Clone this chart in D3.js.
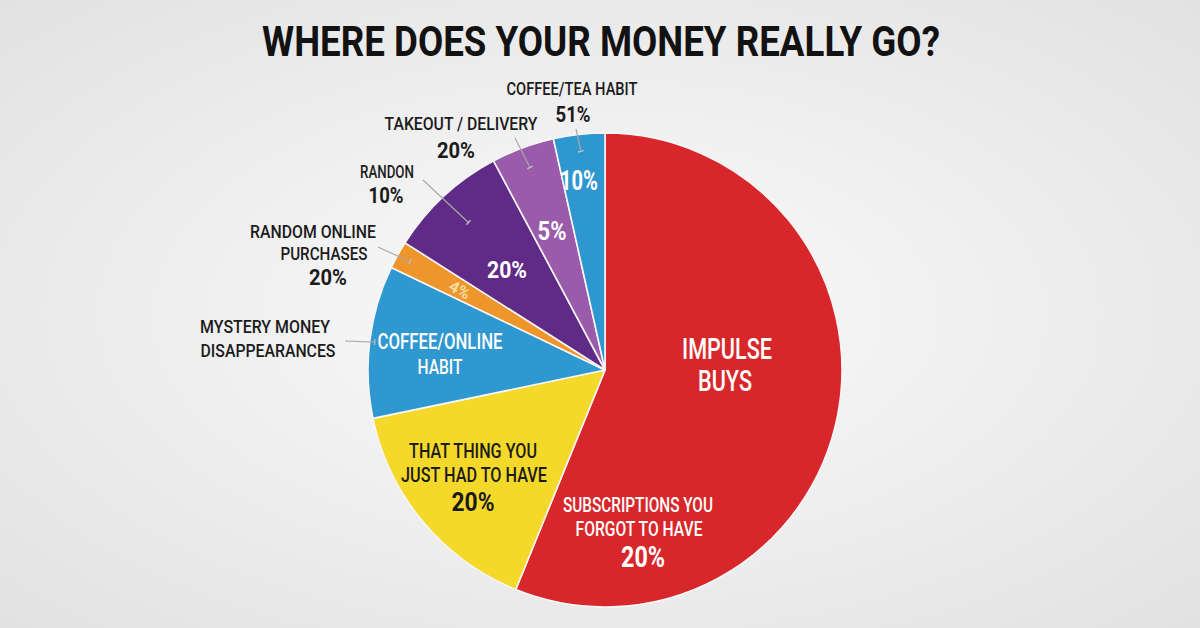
<!DOCTYPE html>
<html>
<head>
<meta charset="utf-8">
<script src="https://cdn.jsdelivr.net/npm/d3@7"></script>
<style>
  html, body { margin: 0; padding: 0; }
  body { width: 1200px; height: 628px; overflow: hidden; }
  text { font-family: Roboto, "Open Sans", sans-serif; }
</style>
</head>
<body>
<div class="importPie"></div>
<script>
// slice data, clockwise from 12 o'clock
var categories = ["Impulse buys", "That thing you just had to have", "Coffee/online habit",
    "Random online purchases", "Randon", "Takeout / delivery", "Coffee/tea habit"];
var shares = [56.2, 15.6, 10.4, 1.9, 8.2, 4.3, 3.5];
var sliceColors = ["#d8272b", "#f5d92a", "#2f98d0", "#ee952b", "#5f2b86", "#9b5bab", "#2f97cf"];

// printed labels (as in the picture)
var insideLabels = [
    ["IMPULSE", "BUYS"],
    ["THAT THING YOU", "JUST HAD TO HAVE", "20%"],
    ["COFFEE/ONLINE", "HABIT"],
    ["4%"],
    ["20%"],
    ["5%"],
    ["10%"]
];
var extraLabel = ["SUBSCRIPTIONS YOU", "FORGOT TO HAVE", "20%"];
var outsideLabels = [
    null,
    null,
    ["MYSTERY MONEY", "DISAPPEARANCES"],
    ["RANDOM ONLINE", "PURCHASES", "20%"],
    ["RANDON", "10%"],
    ["TAKEOUT / DELIVERY", "20%"],
    ["COFFEE/TEA HABIT", "51%"]
];
var title = "WHERE DOES YOUR MONEY REALLY GO?";

var width = 1200,
    height = 628,
    cx = 605,
    cy = 370,
    radius = 237;

var svg = d3.select(".importPie")
    .append("svg")
    .attr("width", width)
    .attr("height", height);

// background
var defs = svg.append("defs");
var bg = defs.append("radialGradient")
    .attr("id", "bg")
    .attr("cx", "50%").attr("cy", "50%").attr("r", "70%");
bg.append("stop").attr("offset", "0%").attr("stop-color", "#fbfbfb");
bg.append("stop").attr("offset", "100%").attr("stop-color", "#e2e2e2");
svg.append("rect")
    .attr("width", width)
    .attr("height", height)
    .attr("fill", "url(#bg)");

// pie generator
var pie = d3.pie()
    .sort(null)
    .value(function (d) {
        return d;
    });

var arc = d3.arc()
    .outerRadius(radius)
    .innerRadius(0);

var arcs = pie(shares);

var g = svg.append("g")
    .attr("transform", "translate(" + cx + "," + cy + ")");

g.selectAll(".arc")
    .data(arcs)
    .enter().append("path")
    .attr("class", "arc")
    .attr("d", arc)
    .style("fill", function (d, i) {
        return sliceColors[i];
    })
    .style("stroke", "#f6f6f6")
    .style("stroke-width", 1.6)
    .style("stroke-linejoin", "round");

// one line of text, squeezed horizontally to look like the condensed face
function line(parent, str, p, fill) {
    var t = parent.append("text")
        .attr("text-anchor", "middle")
        .style("font-size", p[2] + "px")
        .style("font-weight", p[4])
        .style("fill", fill)
        .text(str);
    var len = t.node().getComputedTextLength();
    t.attr("transform", "translate(" + p[0] + "," + p[1] + ") scale(" + (p[3] / len) + ",1)");
    return t;
}

function block(parent, lines, lay, fill) {
    lines.forEach(function (s, j) {
        line(parent, s, lay[j], fill);
    });
}

// title
line(svg, title, [601, 56, 43, 678, 700], "#121212");

// layout of label blocks: [x, baseline, size, width, weight] for each line
var insideLayout = [
    [[727, 359, 29, 90, 500], [725, 391, 30, 54, 500]],
    [[473, 458, 21, 128, 500], [474, 482, 21, 146, 500], [473, 511, 26, 43, 700]],
    [[440, 349, 22, 125, 500], [440, 374, 21, 45, 500]],
    [[0, 6, 16, 22, 700]],
    [[507, 278, 23, 40, 700]],
    [[552, 240, 25, 29, 700]],
    [[579, 190, 27, 38, 700]]
];
var insideFill = ["#ffffff", "#1b1b1b", "#ffffff", "#f7e6b2", "#ffffff", "#ffffff", "#ffffff"];
var extraLayout = [[638, 512, 21, 150, 500], [639, 536, 21, 127, 500], [643, 567, 29, 44, 700]];

var outsideLayout = [
    null,
    null,
    [[265, 333, 19, 130, 500], [268, 357, 19, 135, 500]],
    [[313, 238, 19, 126, 500], [324, 260, 19, 87, 500], [328, 285, 22, 38, 700]],
    [[387, 178, 19, 54, 500], [386, 203, 22, 35, 700]],
    [[461, 130, 19, 153, 500], [456, 158, 22, 38, 700]],
    [[572, 95, 19, 131, 500], [573, 122, 22, 35, 700]]
];
// leader start points and the radius where they stop inside the slice
var leaderStart = [null, null, [345, 341], [378, 247], [423, 180], [515, 138], [576, 129]];
var leaderDepth = [0, 0, 232, 223, 201, 216, 220];

var labels = svg.append("g");

arcs.forEach(function (d, i) {
    var lay = insideLayout[i];
    if (i === 3) {
        // small rotated label on the thin orange slice
        var mid = (d.startAngle + d.endAngle) / 2;
        var r = radius * 0.7;
        var px = cx + Math.sin(mid) * r,
            py = cy - Math.cos(mid) * r;
        var rg = labels.append("g")
            .attr("transform", "translate(" + px + "," + py + ") rotate(" +
                (mid * 180 / Math.PI - 270) + ")")
            .style("opacity", 0.9);
        block(rg, insideLabels[i], lay, insideFill[i]);
    } else {
        block(labels, insideLabels[i], lay, insideFill[i]);
    }

    if (outsideLabels[i]) {
        block(labels, outsideLabels[i], outsideLayout[i], "#1b1b1b");
        var a = (d.startAngle + d.endAngle) / 2;
        var ex = cx + Math.sin(a) * leaderDepth[i],
            ey = cy - Math.cos(a) * leaderDepth[i];
        var sx = leaderStart[i][0],
            sy = leaderStart[i][1];
        labels.append("line")
            .attr("x1", sx).attr("y1", sy)
            .attr("x2", ex).attr("y2", ey)
            .style("stroke", "#a9a9a9")
            .style("stroke-width", 1.2);
        // small tick at the end
        var len = Math.hypot(ex - sx, ey - sy);
        var nx = -(ey - sy) / len * 3,
            ny = (ex - sx) / len * 3;
        labels.append("line")
            .attr("x1", ex - nx).attr("y1", ey - ny)
            .attr("x2", ex + nx).attr("y2", ey + ny)
            .style("stroke", "#bdbdbd")
            .style("stroke-width", 1.4);
    }
});

// the second label inside the red slice
block(labels, extraLabel, extraLayout, "#ffffff");
</script>
</body>
</html>
